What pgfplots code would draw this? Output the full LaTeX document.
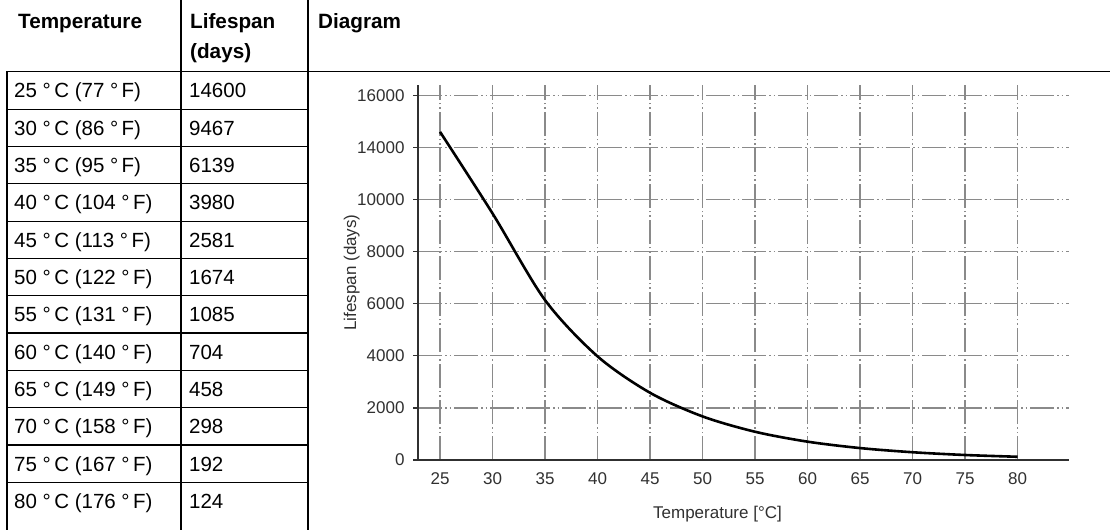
\documentclass[border=0pt]{standalone}
\usepackage{pgfplots}
\pgfplotsset{compat=1.18}
\usepackage{fontspec}
\setmainfont{Liberation Sans}
\definecolor{gridgray}{HTML}{8A8A8A}
\definecolor{axisgray}{HTML}{303030}
\newcommand{\tabfont}{\fontsize{20.5}{24}\selectfont}
\newcommand{\headfont}{\fontsize{20.7}{24}\selectfont\bfseries}
\newcommand{\dg}{\;°\,}
\begin{document}
\begin{tikzpicture}
\useasboundingbox (0pt,0pt) rectangle (1110pt,530pt);
% ---- table rules ----
\draw[line width=1.2pt] (7pt,458.5pt) -- (1110pt,458.5pt);
\foreach \k in {1,...,11}{
  \draw[line width=1.2pt] (7pt,{(530-72-37.3*\k)*1pt}) -- (308pt,{(530-72-37.3*\k)*1pt});
}
\draw[line width=1.2pt] (7pt,458.5pt) -- (7pt,0pt);
\draw[line width=1.2pt] (181pt,530pt) -- (181pt,0pt);
\draw[line width=1.2pt] (308pt,530pt) -- (308pt,0pt);
% ---- header ----
\node[anchor=base west, inner sep=0pt, font=\headfont] at (18pt,501.5pt) {Temperature};
\node[anchor=base west, inner sep=0pt, font=\headfont] at (190pt,501.5pt) {Lifespan};
\node[anchor=base west, inner sep=0pt, font=\headfont] at (190pt,471.5pt) {(days)};
\node[anchor=base west, inner sep=0pt, font=\headfont] at (318pt,501.5pt) {Diagram};
% ---- rows ----
\foreach \t/\v [count=\i from 0] in {25\dg C (77\dg F)/14600, 30\dg C (86\dg F)/9467, 35\dg C (95\dg F)/6139, 40\dg C (104\dg F)/3980, 45\dg C (113\dg F)/2581, 50\dg C (122\dg F)/1674, 55\dg C (131\dg F)/1085, 60\dg C (140\dg F)/704, 65\dg C (149\dg F)/458, 70\dg C (158\dg F)/298, 75\dg C (167\dg F)/192, 80\dg C (176\dg F)/124}{
  \node[anchor=base west, inner sep=0pt, font=\tabfont] at (14pt,{(530-98-37.3*\i)*1pt}) {\t};
  \node[anchor=base west, inner sep=0pt, font=\tabfont] at (189pt,{(530-98-37.3*\i)*1pt}) {\v};
}
% ---- chart (y scale of the original skips 12000: 10000-14000 is compressed) ----
\begin{axis}[
  scale only axis, width=651pt, height=375pt,
  at={(418pt,70pt)}, anchor=south west,
  xmin=22.9, xmax=84.9, ymin=0, ymax=14400,
  y filter/.expression={y<=10000 ? y : (y<=14000 ? 5000+0.5*y : y-2000)},
  xtick={25,30,...,80},
  ytick={0,2000,4000,6000,8000,10000,12000,14000},
  yticklabels={0,2000,4000,6000,8000,10000,14000,16000},
  scaled y ticks=false,
  axis x line=bottom, axis y line=left,
  axis line style={-, axisgray, line width=1.6pt},
  grid=major,
  major grid style={gridgray, line width=1.2pt, dash pattern=on 24pt off 3pt on 1.5pt off 3pt on 1.5pt off 3pt},
  xtick style={draw=none},
  ytick style={axisgray, line width=1.2pt},
  tick align=outside, major tick length=5pt,
  /pgf/number format/assume math mode=true,
  tick label style={font=\fontsize{17}{20}\selectfont, text=axisgray},
  xticklabel style={yshift=-4pt},
  yticklabel style={xshift=-5pt},
  xlabel={Temperature [°C]},
  ylabel={Lifespan (days)},
  xlabel style={font=\fontsize{17}{20}\selectfont, text=axisgray, at={(axis description cs:0.46,0)}, anchor=base, yshift=-58pt},
  ylabel style={font=\fontsize{17}{20}\selectfont, text=axisgray, at={([xshift=-62pt]axis description cs:0,0.5)}, anchor=base},
  clip=false,
]
\addplot[black, line width=2.6pt, smooth, tension=0.5] coordinates {
  (25,14600) (30,9467) (35,6139) (40,3980) (45,2581) (50,1674)
  (55,1085) (60,704) (65,458) (70,298) (75,192) (80,124)
};
\end{axis}
\end{tikzpicture}
\end{document}
